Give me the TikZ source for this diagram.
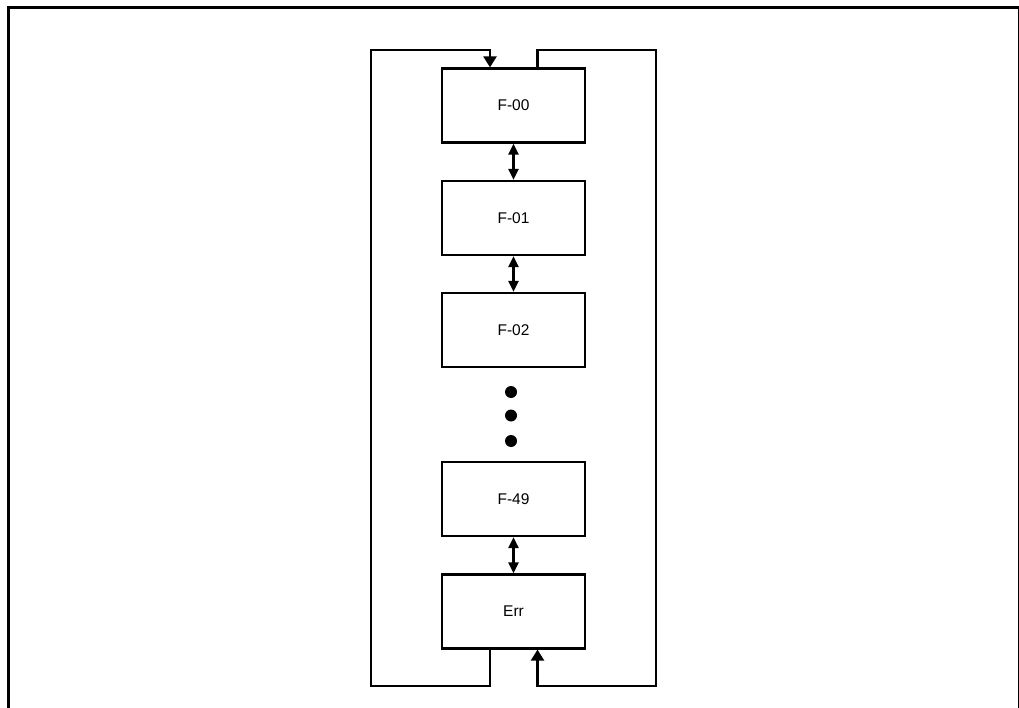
\documentclass[tikz,border=0pt]{standalone}
\usepackage{fontspec}
\setmainfont{Liberation Sans}
\usetikzlibrary{arrows.meta,calc}
\begin{document}
\begin{tikzpicture}[x=1pt,y=-1pt,
 box/.style={draw,line width=2.2pt,minimum width=143pt,minimum height=74pt,inner sep=0pt,font=\fontsize{15.5}{18}\selectfont},
 conn/.style={line width=2.2pt},
 tip/.style={-{Triangle[width=13pt,length=11pt]}},
 dbl/.style={{Triangle[width=10pt,length=11pt]}-{Triangle[width=10pt,length=11pt]}, line width=2.2pt},
 dotn/.style={circle,fill,inner sep=0pt,minimum size=12pt}]
\useasboundingbox (0,0) rectangle (1019,708);
\draw[line width=3pt] (8.5,708) -- (8.5,7.5) -- (1018.5,7.5);
\draw[line width=1.2pt] (1018.4,7.5) -- (1018.4,708);
\node[box] (b0) at (513.5,105.5) {F-00};
\node[box] (b1) at (513.5,218) {F-01};
\node[box] (b2) at (513.5,330) {F-02};
\node[box] (b49) at (513.5,499) {F-49};
\node[box] (err) at (513.5,611.5) {Err};
\node[dotn] (d1) at (511,392) {};
\node[dotn] (d2) at (511,415.5) {};
\node[dotn] (d3) at (511,441) {};
\draw[dbl] (b0.south) -- (b1.north);
\draw[dbl] (b1.south) -- (b2.north);
\draw[dbl] (b49.south) -- (err.north);
\coordinate (inT) at ($(b0.north)+(-23.5,0)$);
\coordinate (outT) at ($(b0.north)+(24,0)$);
\coordinate (outB) at ($(err.south)+(-23.5,0)$);
\coordinate (inB) at ($(err.south)+(24,0)$);
\draw[conn,tip] (outB) -- (outB|-0,686) -- (371,686) -- (371,50) -- (inT|-0,50) -- (inT);
\draw[conn,tip] (outT) -- (outT|-0,50) -- (656,50) -- (656,686) -- (inB|-0,686) -- (inB);
\end{tikzpicture}
\end{document}
